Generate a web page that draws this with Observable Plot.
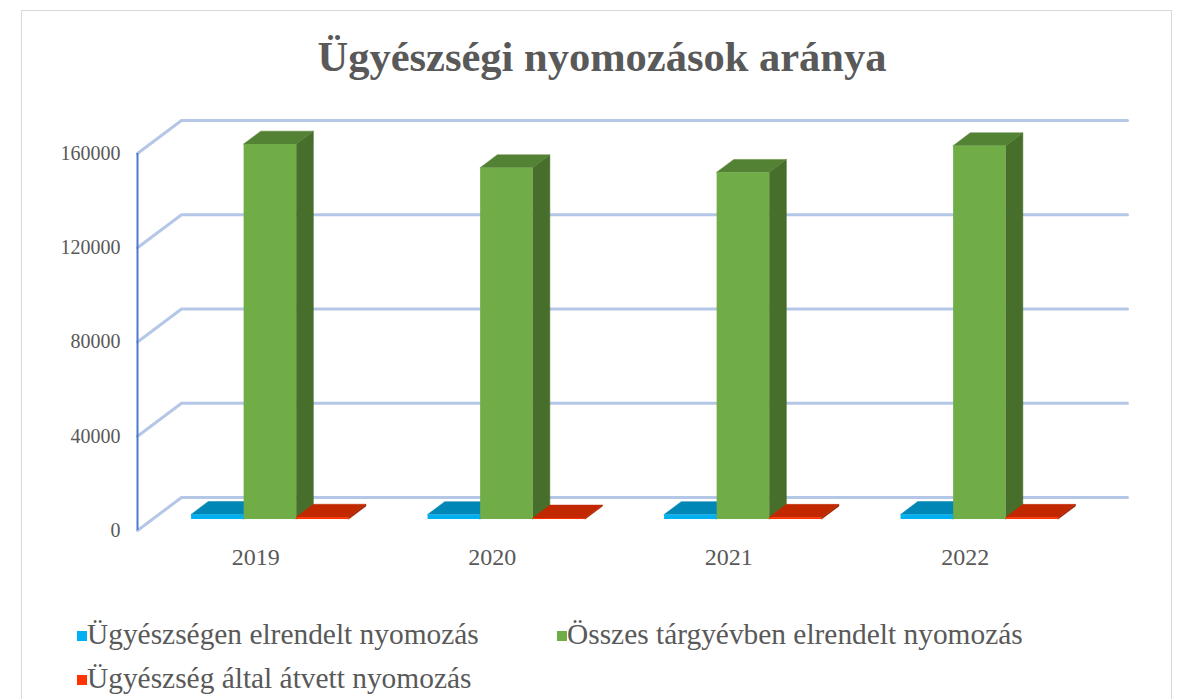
<!DOCTYPE html>
<html><head><meta charset="utf-8">
<script src="https://cdn.jsdelivr.net/npm/d3@7"></script>
<script src="https://cdn.jsdelivr.net/npm/@observablehq/plot@0.6"></script>
<style>
html,body{margin:0;padding:0;background:#fff;width:1182px;height:699px;overflow:hidden;font-family:"Liberation Serif",serif;color:#595959}
body{position:relative}
#frame{position:absolute;left:21px;top:10px;width:1151px;height:720px;border:1px solid #d9d9d9;box-sizing:border-box}
#title{position:absolute;left:0;width:1182px;top:29px;text-align:center;font-weight:bold;font-size:42.5px;line-height:56px;padding-left:22px;box-sizing:border-box}
#chart{position:absolute;left:0;top:90px}
.leg{position:absolute;font-size:29.4px;line-height:36px;white-space:nowrap}
.sw{display:inline-block;width:10px;height:10px;margin-right:0px;vertical-align:middle;position:relative;top:-1px}
</style></head><body>
<div id="frame"></div>
<div id="title"></div>
<div id="chart"></div>
<div id="legend"></div>
<script>
// ---- data ----
const titleText = "Ügyészségi nyomozások aránya";
const years = ["2019", "2020", "2021", "2022"];
const seriesNames = ["Ügyészségen elrendelt nyomozás", "Összes tárgyévben elrendelt nyomozás", "Ügyészség által átvett nyomozás"];
const elrendelt = [1950, 1900, 1900, 1950];
const osszes = [159150, 149100, 147150, 158450];
const atvett = [800, 450, 750, 750];
const yTicks = [0, 40000, 80000, 120000, 160000];

// ---- styles ----
const faceColors = [
  {front: "#00b0f0", top: "#0087b5", side: "#006f94", legend: "#00b0f0"},
  {front: "#70ad47", top: "#548235", side: "#486e2c", legend: "#70ad47"},
  {front: "#ff3300", top: "#c22800", side: "#a02000", legend: "#ff3300"}
];
const seriesValues = [elrendelt, osszes, atvett];

// geometry (oblique 3D projection in data units)
const XRANGE = [137, 1083], YRANGE = [440, 63];
const YMAX = yTicks[yTicks.length - 1];
const DXU = years.length * 44 / (XRANGE[1] - XRANGE[0]);
const DYU = YMAX * 33 / (YRANGE[0] - YRANGE[1]);
const F0 = 1 / 3, BD = 0.39;
const W = 1 / 4.5;

const fronts = [], sides = [], tops = [];
years.forEach((yr, i) => {
  seriesValues.forEach((vals, s) => {
    const v = vals[i];
    const x0 = i + F0 * DXU + 0.75 * W + s * W;
    const base = F0 * DYU, top = v + F0 * DYU;
    const bx = BD * DXU, by = BD * DYU;
    const id = yr + "-" + s;
    const c = faceColors[s];
    fronts.push({x1: x0, x2: x0 + W, y1: base, y2: top, fill: c.front});
    sides.push({id, x1: x0 + W, y1: base, x2: x0 + W, y2: top, fill: c.side});
    sides.push({id, x1: x0 + W + bx, y1: base + by, x2: x0 + W + bx, y2: top + by, fill: c.side});
    tops.push({id, x1: x0, y1: top, x2: x0 + W, y2: top, fill: c.top});
    tops.push({id, x1: x0 + bx, y1: top + by, x2: x0 + W + bx, y2: top + by, fill: c.top});
  });
});

const grid = [];
yTicks.forEach(t => {
  grid.push({t, x: 0, y: t});
  grid.push({t, x: DXU, y: t + DYU});
  grid.push({t, x: years.length + DXU, y: t + DYU});
});

const plot = Plot.plot({
  width: 1182,
  height: 500,
  x: {type: "linear", domain: [0, years.length], range: XRANGE, axis: null},
  y: {type: "linear", domain: [0, YMAX], range: YRANGE, axis: null},
  color: {type: "identity"},
  style: {fontFamily: "'Liberation Serif', serif", background: "transparent", color: "#595959"},
  marks: [
    Plot.line(grid, {x: "x", y: "y", z: "t", stroke: "#b4c7e7", strokeWidth: 3, curve: "linear"}),
    Plot.ruleX([0], {y1: 0, y2: YMAX, stroke: "#4a7bd0", strokeWidth: 2}),
    Plot.area(sides, {x1: "x1", y1: "y1", x2: "x2", y2: "y2", z: "id", fill: "fill", stroke: "fill", strokeWidth: 0.5}),
    Plot.area(tops, {x1: "x1", y1: "y1", x2: "x2", y2: "y2", z: "id", fill: "fill", stroke: "fill", strokeWidth: 0.5}),
    Plot.rect(fronts, {x1: "x1", x2: "x2", y1: "y1", y2: "y2", fill: "fill"}),
    Plot.text(yTicks, {x: 0, y: d => d, text: d => String(d), dx: -17, textAnchor: "end", fontSize: 20, fill: "#595959"}),
    Plot.text(years, {x: (d, i) => i + 0.5, y: 0, dy: 27, text: d => d, fontSize: 24, fill: "#595959"})
  ]
});
document.getElementById("chart").appendChild(plot);
document.getElementById("title").textContent = titleText;

const legendPos = [{left: 77, top: 616}, {left: 557, top: 616}, {left: 77, top: 660}];
const leg = document.getElementById("legend");
seriesNames.forEach((name, s) => {
  const d = document.createElement("div");
  d.className = "leg";
  d.style.left = legendPos[s].left + "px";
  d.style.top = legendPos[s].top + "px";
  const sw = document.createElement("span");
  sw.className = "sw";
  sw.style.background = faceColors[s].legend;
  d.appendChild(sw);
  d.appendChild(document.createTextNode(name));
  leg.appendChild(d);
});
</script>
</body></html>
